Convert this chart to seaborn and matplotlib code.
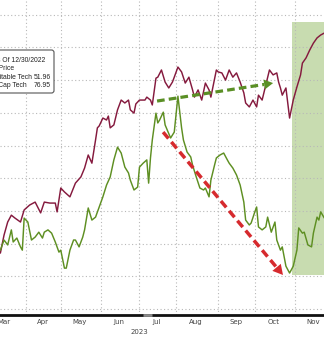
import numpy as np
import pandas as pd
import matplotlib
matplotlib.use("Agg")
import matplotlib.pyplot as plt
import seaborn as sns
from matplotlib.patches import FancyBboxPatch, Rectangle
from matplotlib.transforms import IdentityTransform, blended_transform_factory

# ---- data: x = trading-session number within 2023, y = index level ----
unprof_session = [48, 50, 52, 54, 55, 57, 59, 60, 61, 63, 65, 67, 69, 71, 72, 74, 76, 78, 80, 81,
                  83, 84, 86, 88, 89, 91, 93, 94, 96, 98, 100, 102, 104, 106, 108, 110, 112, 114,
                  116, 118, 119, 121, 123, 124, 126, 128, 129, 130, 131, 133, 134, 135, 137, 138,
                  141, 142, 143, 145, 147, 148, 150, 152, 153, 155, 157, 159, 160, 162, 163, 165,
                  166, 168, 170, 172, 173, 175, 177, 179, 181, 182, 184, 185, 187, 188, 189, 191,
                  193, 194, 196, 198, 199, 201, 202, 204, 206, 208, 210, 211, 213, 214, 216, 218,
                  219, 221, 222, 223, 225]
unprof_level = [18.0, 21.1, 19.6, 24.2, 20.5, 21.7, 19.0, 18.0, 27.8, 26.6, 21.1, 22.0, 23.5, 21.7,
                23.5, 24.2, 23.2, 20.5, 17.4, 18.0, 12.5, 12.5, 18.0, 21.1, 21.1, 19.0, 22.0, 24.2,
                30.9, 27.2, 28.1, 31.2, 34.3, 37.9, 40.4, 45.6, 49.5, 47.7, 43.4, 41.6, 39.4, 36.4,
                37.3, 43.4, 44.6, 45.6, 38.5, 46.2, 51.7, 59.9, 56.9, 57.8, 60.2, 56.3, 52.3, 53.2,
                54.1, 65.1, 55.4, 51.7, 48.0, 46.5, 44.0, 40.4, 37.0, 36.4, 37.0, 34.3, 39.4, 44.0,
                46.2, 47.1, 47.7, 45.6, 44.6, 43.1, 41.0, 37.9, 32.7, 27.2, 25.7, 26.3, 29.7, 31.2,
                25.1, 24.2, 25.1, 28.1, 23.5, 26.6, 21.1, 18.0, 19.0, 13.1, 11.0, 13.1, 18.0, 24.8,
                23.2, 23.5, 19.6, 19.0, 23.2, 28.1, 27.2, 29.7, 27.8]

mega_session = [48, 50, 52, 54, 56, 59, 61, 64, 67, 70, 72, 75, 78, 79, 81, 83, 86, 89, 92, 94,
                96, 98, 100, 101, 102, 104, 106, 107, 108, 110, 112, 114, 116, 118, 119, 121, 122,
                124, 127, 128, 130, 131, 133, 134, 136, 138, 140, 142, 143, 145, 147, 149, 151,
                153, 154, 156, 158, 160, 162, 163, 166, 167, 169, 171, 173, 175, 177, 179, 181,
                182, 184, 186, 188, 189, 191, 193, 195, 197, 199, 200, 201, 202, 204, 206, 208,
                210, 212, 213, 215, 217, 219, 221, 223, 225]
mega_level = [17.1, 22.6, 26.6, 28.7, 27.8, 26.6, 30.3, 31.8, 32.7, 29.4, 32.7, 32.4, 32.4, 29.7,
              37.0, 35.8, 34.3, 38.5, 40.4, 43.1, 47.1, 44.6, 51.7, 55.4, 56.0, 58.4, 57.8, 59.0,
              55.4, 56.3, 60.9, 63.9, 63.0, 63.9, 60.9, 59.9, 62.7, 63.9, 63.9, 64.8, 63.9, 62.4,
              70.6, 70.9, 73.1, 69.4, 67.6, 69.4, 70.9, 74.0, 72.5, 69.1, 70.9, 67.0, 64.8, 67.0,
              63.9, 69.1, 67.0, 64.8, 73.1, 72.5, 72.2, 70.0, 73.1, 70.9, 72.2, 69.4, 66.1, 63.0,
              61.8, 63.9, 61.8, 65.4, 63.9, 68.5, 73.1, 71.6, 72.2, 69.4, 67.6, 65.4, 67.6, 58.4,
              63.9, 67.9, 71.6, 75.2, 76.8, 79.2, 81.3, 82.9, 83.8, 84.4]

legend_names = ["GS Non-Profitable Tech", "GS Mega Cap Tech"]
legend_values = ["51.96", "76.95"]
legend_header = ["Indexed As Of 12/30/2022", "Last Price"]

# trend annotations (session, level)
green_trend = [(133.6, 63.6), (197.0, 69.1)]
red_trend = [(136.9, 54.1), (202.4, 10.4)]
# highlighted rally window
rally_start, rally_low, rally_high = 207.3, 10.4, 87.8

MAROON = "#851a3e"
GREEN = "#5e8f22"
ARROW_GREEN = "#5a8f25"
ARROW_RED = "#d62a2e"
SHADE = "#c8dcb0"

# ---- NYSE trading calendar for 2023 ----
holidays = pd.to_datetime(["2023-01-02", "2023-01-16", "2023-02-20", "2023-04-07", "2023-05-29",
                           "2023-06-19", "2023-07-04", "2023-09-04", "2023-11-23", "2023-12-25"])
sessions = pd.bdate_range("2023-01-01", "2023-12-31")
sessions = sessions[~sessions.isin(holidays)]
month_of = sessions.month
month_start = [int(np.argmax(month_of == m)) for m in range(1, 13)] + [len(sessions)]
month_center = [(month_start[i] + month_start[i + 1] - 1) / 2 for i in range(12)]
month_names = [pd.Timestamp(2023, m, 1).strftime("%b") for m in range(1, 13)]

sns.set_style("white")
plt.rcParams["font.family"] = ["DejaVu Sans"]

W, H = 324, 337
XLIM = (47.8, 224.8)
YLIM = (-1.83, 94.5)
fig = plt.figure(figsize=(W / 100, H / 100), dpi=100)
ax = fig.add_axes([0, 22 / H, 1, 315 / H])

ax.add_patch(Rectangle((rally_start, rally_low), 40, rally_high - rally_low,
                       facecolor=SHADE, edgecolor="none", zorder=0.2))

lines = pd.concat([
    pd.DataFrame({"session": mega_session, "level": mega_level, "basket": legend_names[1]}),
    pd.DataFrame({"session": unprof_session, "level": unprof_level, "basket": legend_names[0]}),
])
sns.lineplot(data=lines, x="session", y="level", hue="basket",
             palette={legend_names[1]: MAROON, legend_names[0]: GREEN},
             linewidth=1.05, legend=False, ax=ax, zorder=2, sort=False)

# grid & axes
ax.set_axisbelow(True)
ax.set_yticks(np.arange(0, 100, 10))
ax.set_xticks(month_start[:12])
ax.set_xticks(month_center, minor=True)
ax.set_xticklabels(month_names, minor=True)
ax.set_xlim(*XLIM)
ax.set_ylim(*YLIM)
ax.grid(True, which="major", linestyle=(0, (1, 2.2)), color="#b8b8b8", linewidth=0.8)
ax.tick_params(axis="y", left=False, labelleft=False)
ax.tick_params(axis="x", which="major", length=2.5, width=0.6, color="#888888",
               labelbottom=False, direction="out")
ax.tick_params(axis="x", which="minor", length=0, pad=3.2, labelsize=5, labelcolor="#444444")
ax.set_xlabel("")
ax.set_ylabel("")
for side in ("top", "left", "right"):
    ax.spines[side].set_visible(False)
ax.spines["bottom"].set_color("#111111")
ax.spines["bottom"].set_linewidth(2.0)
ax.plot([143 / W, 152 / W], [0, 0], transform=ax.transAxes, color="#8a8a8a",
        lw=2.0, solid_capstyle="butt", clip_on=False, zorder=5)

ax.text(month_start[6], -0.054, "2023", transform=blended_transform_factory(ax.transData, ax.transAxes),
        ha="center", va="center", fontsize=5, color="#444444")


def dashed_arrow(points, color, lw, head_len, head_half):
    (x0, y0), (x1, y1) = points
    p0 = ax.transData.transform((x0, y0))
    p1 = ax.transData.transform((x1, y1))
    d = p1 - p0
    u = d / np.hypot(*d)
    n = np.array([-u[1], u[0]])
    base = p1 - u * head_len
    inv = ax.transData.inverted()
    b = inv.transform(base)
    ax.plot([x0, b[0]], [y0, b[1]], color=color, lw=lw, linestyle=(0, (2.4, 1.3)),
            dash_capstyle="butt", zorder=4)
    tri = np.array([p1, base + n * head_half, base - n * head_half])
    tri = inv.transform(tri)
    ax.fill(tri[:, 0], tri[:, 1], color=color, zorder=4, lw=0)


dashed_arrow(green_trend, ARROW_GREEN, 2.3, 9, 5)
dashed_arrow(red_trend, ARROW_RED, 2.5, 10, 5.5)
ax.set_xlim(*XLIM)
ax.set_ylim(*YLIM)

# legend box (partly outside the canvas on the left)
box = FancyBboxPatch((-20, H - 93), 74, 43, boxstyle="round,pad=0,rounding_size=2.5",
                     facecolor="white", edgecolor="#555555", linewidth=0.8,
                     transform=IdentityTransform(), zorder=10)
fig.add_artist(box)


def ftext(x, y, s, ha):
    fig.text(x / W, 1 - y / H, s, ha=ha, va="center", fontsize=4.9,
             family=["Liberation Sans", "DejaVu Sans"], color="#222222", zorder=11)


ftext(45.5, 60.5, legend_header[0], "right")
ftext(14.5, 69, legend_header[1], "right")
ftext(31.5, 77.5, legend_names[0], "right")
ftext(26.5, 86, legend_names[1], "right")
ftext(50.5, 77.5, legend_values[0], "right")
ftext(50.5, 86, legend_values[1], "right")

fig.savefig("out.png", dpi=100)
